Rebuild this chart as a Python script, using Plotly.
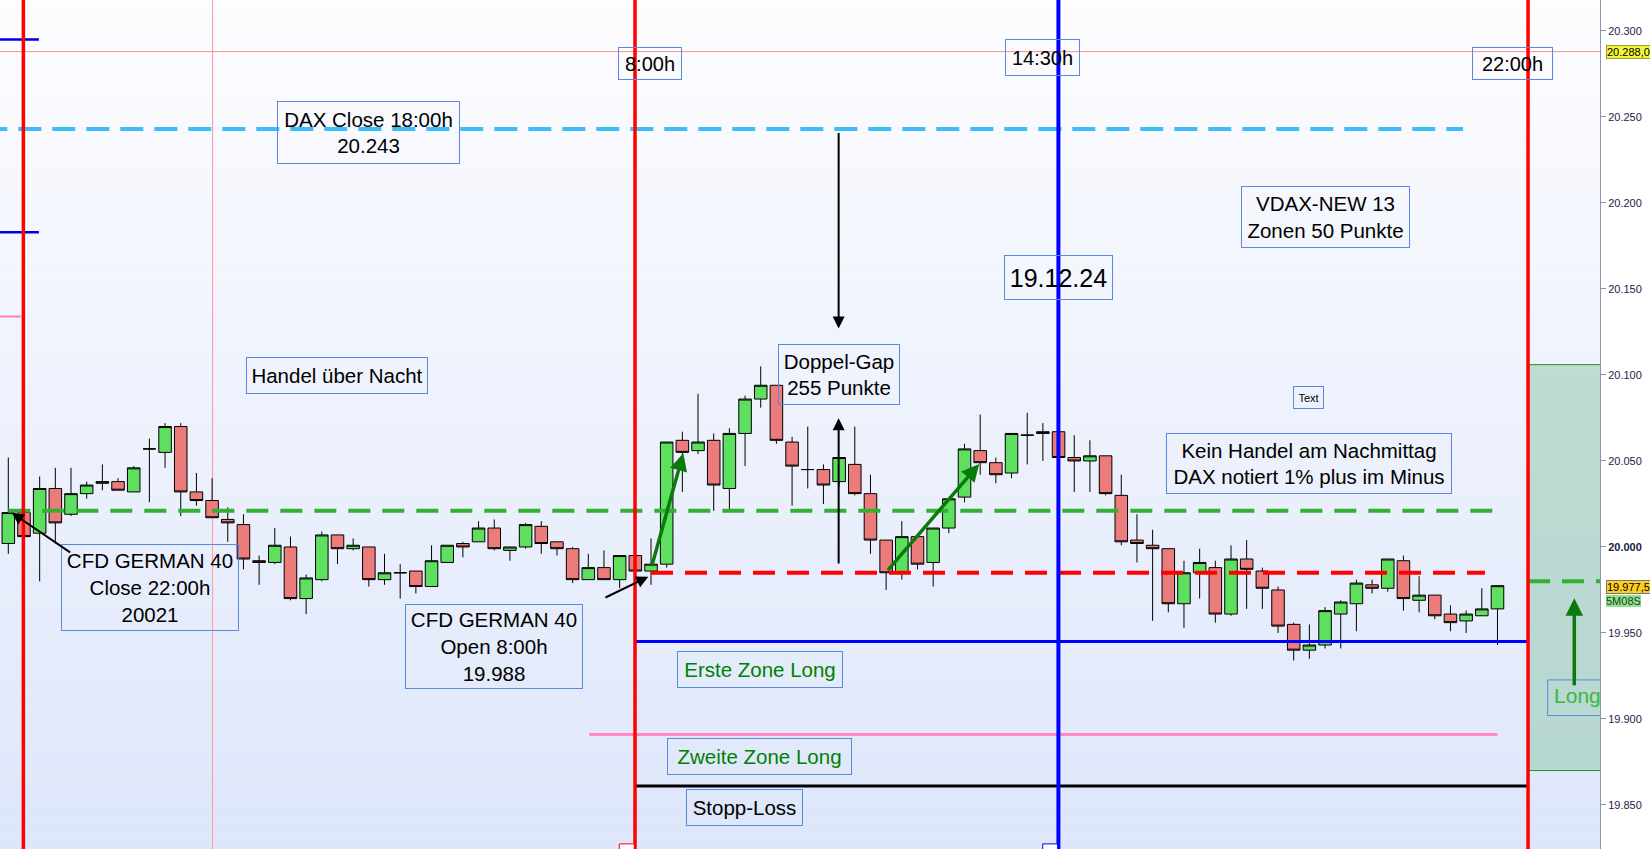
import plotly.graph_objects as go

# ---------------- data (15-min candles, index 0..95) ----------------
opens = [20002, 20020, 20008, 20034, 20019, 20031, 20037, 20038, 20032, 20057,
         20055, 20070, 20032, 20027, 20016, 20013, 19992, 19991, 20000, 19970,
         19981, 20007, 19999, 20000, 19981, 19985, 19986, 19977, 19991, 20002,
         20003, 20011, 19998, 20000, 20012, 20003, 19999, 19981, 19988, 19981,
         19995, 19986, 19990, 20062, 20056, 20062, 20034, 20066, 20086, 20094,
         20061, 20045, 20045, 20038, 20048, 20031, 20004, 19985, 20006, 19991,
         20011, 20029, 20056, 20049, 20043, 20065, 20066, 20067, 20052, 20050,
         20053, 20030, 20004, 20001, 19999, 19967, 19985, 19988, 19961, 19993,
         19986, 19975, 19955, 19940, 19943, 19961, 19967, 19978, 19976, 19992,
         19969, 19972, 19961, 19957, 19960, 19964]
highs = [20052, 20021, 20041, 20046, 20046, 20038, 20048, 20040, 20047, 20063,
         20072, 20072, 20043, 20040, 20023, 20019, 19995, 20011, 20006, 19984,
         20009, 20007, 20005, 20000, 19996, 19990, 19986, 20001, 20001, 20003,
         20015, 20016, 20000, 20014, 20015, 20003, 20000, 19996, 19998, 19995,
         19995, 20005, 20061, 20067, 20089, 20066, 20069, 20088, 20105, 20094,
         20064, 20070, 20048, 20052, 20070, 20042, 20004, 20015, 20006, 20011,
         20029, 20060, 20077, 20052, 20066, 20078, 20072, 20067, 20065, 20062,
         20053, 20042, 20019, 20010, 19999, 19992, 19999, 19992, 20001, 20004,
         19988, 19977, 19956, 19955, 19965, 19969, 19981, 19981, 19993, 19995,
         19983, 19972, 19966, 19963, 19976, 19977.5]
lows = [19996, 20005, 19980, 20002, 20018, 20028, 20033, 20033, 20032, 20026,
        20046, 20018, 20024, 20017, 20003, 19987, 19978, 19990, 19969, 19961,
        19980, 19990, 19998, 19977, 19978, 19970, 19973, 19977, 19991, 19994,
        20003, 19998, 19992, 19999, 19996, 19995, 19979, 19981, 19981, 19976,
        19981, 19978, 19988, 20032, 20054, 20021, 20021, 20047, 20081, 20060,
        20024, 20034, 20025, 20035, 20030, 19996, 19975, 19981, 19987, 19977,
        20008, 20026, 20042, 20037, 20040, 20048, 20050, 20051, 20032, 20032,
        20030, 20001, 19991, 19957, 19962, 19953, 19970, 19956, 19960, 19964,
        19964, 19950, 19934, 19935, 19941, 19941, 19951, 19973, 19974, 19963,
        19962, 19958, 19951, 19950, 19960, 19943]
closes = [20020, 20006, 20034, 20014, 20031, 20036, 20038, 20033, 20046, 20057,
          20070, 20032, 20027, 20017, 20014, 19993, 19991, 20001, 19970, 19982,
          20007, 19999, 20001, 19981, 19985, 19985, 19977, 19992, 20001, 20000,
          20011, 19999, 20000, 20013, 20002, 19999, 19981, 19988, 19981, 19995,
          19986, 19990, 20061, 20055, 20061, 20036, 20066, 20086, 20094, 20062,
          20047, 20045, 20036, 20052, 20031, 20004, 19985, 20006, 19990, 20011,
          20028, 20057, 20049, 20042, 20066, 20065, 20067, 20052, 20050, 20053,
          20031, 20003, 20002, 19999, 19967, 19985, 19991, 19961, 19993, 19987,
          19976, 19954, 19940, 19943, 19963, 19968, 19979, 19976, 19993, 19970,
          19972, 19960, 19956, 19961, 19964, 19977.5]
candle_idx = list(range(len(opens)))

# session markers (candle index positions)
session_names = ["22:00h", "8:00h", "14:30h", "22:00h"]
session_pos = [0.96, 39.98, 66.99, 96.95]
session_colors = ["#ff0000", "#ff0000", "#0000ff", "#ff0000"]

# price levels
dax_close = 20243
cfd_close = 20021
cfd_open = 19985
zone1 = 19945
zone2 = 19891
stop_loss = 19861
last_price = 19977.5
prev_high_mark = 20288
long_zone = [19870, 20106]

y_ticks = [19850, 19900, 19950, 20000, 20050, 20100, 20150, 20200, 20250, 20300]
y_tick_text = ["19.850", "19.900", "19.950", "<b>20.000</b>", "20.050", "20.100",
               "20.150", "20.200", "20.250", "20.300"]

X_MIN, X_MAX = -0.53, 101.54
Y_MIN, Y_MAX = 19824.4, 20318.0

FONT = "Liberation Sans, Arial, sans-serif"
GREEN_TXT = "#008000"
BOX_BORDER = "#5a88e0"

fig = go.Figure()
fig.add_trace(go.Candlestick(
    x=candle_idx, open=opens, high=highs, low=lows, close=closes,
    increasing=dict(fillcolor="#5fdf5f", line=dict(color="black", width=1)),
    decreasing=dict(fillcolor="#ec7c7c", line=dict(color="black", width=1)),
    whiskerwidth=0, showlegend=False, hoverinfo="skip"))

shapes = []
# gradient background
N = 60
top = (253, 253, 255)
bot = (221, 230, 250)
for k in range(N):
    t = (k + 0.5) / N
    c = tuple(round(bot[j] + (top[j] - bot[j]) * t) for j in range(3))
    shapes.append(dict(type="rect", xref="paper", yref="paper", x0=0, x1=1,
                       y0=k / N, y1=(k + 1) / N, layer="below",
                       fillcolor="rgb(%d,%d,%d)" % c, line=dict(width=0)))

# long zone box right of 22:00
shapes.append(dict(type="rect", xref="x", yref="y", x0=session_pos[3], x1=X_MAX + 2,
                   y0=long_zone[0], y1=long_zone[1], layer="below",
                   fillcolor="rgba(150,200,175,0.55)", line=dict(width=0)))
for yv in long_zone:
    shapes.append(dict(type="line", xref="x", yref="y", x0=session_pos[3], x1=X_MAX + 2,
                       y0=yv, y1=yv, line=dict(color="#2a8a2a", width=1)))

def hline(y, x0, x1, color, width, dash="solid", layer="above"):
    shapes.append(dict(type="line", xref="x", yref="y", x0=x0, x1=x1, y0=y, y1=y,
                       layer=layer, line=dict(color=color, width=width, dash=dash)))

# thin reference lines
hline(prev_high_mark, X_MIN - 1, X_MAX + 2, "#ff8a8a", 1, layer="below")
shapes.append(dict(type="line", xref="x", yref="paper", x0=13.03, x1=13.03, y0=0, y1=1,
                   layer="below", line=dict(color="#ff9a9a", width=1)))
# short left-edge marks
hline(20295, X_MIN - 1, 1.95, "#0000dd", 2.5)
hline(20183, X_MIN - 1, 1.95, "#0000dd", 2.5)
hline(20134, X_MIN - 1, 0.8, "#ff80b0", 2)

# levels
hline(dax_close, X_MIN - 1, 92.8, "#3fbcf5", 4, "23px,11px")
hline(cfd_close, 0, 94.8, "#33b033", 4, "22px,12px")
hline(cfd_open, 41, 94.2, "#ff0000", 4, "22px,12px")
hline(zone1, session_pos[1], session_pos[3], "#0000ff", 3)
hline(zone2, 37.06, 95.0, "#ff88c0", 3)
hline(stop_loss, session_pos[1], session_pos[3], "#000000", 3)
hline(19980, session_pos[3], X_MAX + 2, "#33b033", 4, "22px,12px")

# session vertical lines
for p, col in zip(session_pos, session_colors):
    shapes.append(dict(type="line", xref="x", yref="paper", x0=p, x1=p, y0=0, y1=1,
                       line=dict(color=col, width=4 if col == "#0000ff" else 3.5)))
# small markers at bottom of session lines
for p, col in [(session_pos[1], "#ff0000"), (session_pos[2], "#0000ff")]:
    shapes.append(dict(type="rect", xref="x", yref="paper", x0=p - 1.0, x1=p - 0.05,
                       y0=-0.01, y1=0.006, fillcolor="white", line=dict(color=col, width=1)))

annotations = []

def box(text, x, y, w, h, size=20.5, color="black"):
    annotations.append(dict(text=text, x=x, y=y, xref="x", yref="y", showarrow=False,
                            width=w, height=h, borderpad=0, borderwidth=1,
                            bordercolor=BOX_BORDER, align="center", valign="middle",
                            font=dict(family=FONT, size=size, color=color)))

box("8:00h", 40.92, 20281.0, 62, 31, 20)
box("14:30h", 65.99, 20284.7, 73, 35, 20)
box("22:00h", 95.97, 20281.0, 79, 31, 20)
box("DAX Close 18:00h<br>20.243", 22.97, 20240.9, 181, 61)
box("VDAX-NEW 13<br>Zonen 50 Punkte", 84.02, 20192.0, 167, 60)
box("19.12.24", 67.0, 20156.8, 107, 43, 25)
box("Doppel-Gap<br>255 Punkte", 52.97, 20100.2, 120, 59)
box("Handel über Nacht", 20.99, 20099.9, 180, 35)
box("Text", 82.97, 20086.7, 29, 21, 11)
box("Kein Handel am Nachmittag<br>DAX notiert 1% plus im Minus", 82.97, 20048.3, 284, 59)
box("CFD GERMAN 40<br>Close 22:00h<br>20021", 9.01, 19976.5, 176, 85)
box("CFD GERMAN 40<br>Open 8:00h<br>19.988", 30.98, 19942.1, 176, 83)
box("Erste Zone Long", 47.97, 19928.5, 164, 35, 20.5, GREEN_TXT)
box("Zweite Zone Long", 47.94, 19878.0, 183, 35, 20.5, GREEN_TXT)
box("Stopp-Loss", 46.98, 19848.4, 115, 35)

# "Long" box (clipped at axis) drawn as shape + text trace
shapes.append(dict(type="rect", xref="x", yref="y", x0=98.2, x1=X_MAX + 1.2,
                   y0=19902.0, y1=19922.7, line=dict(color=BOX_BORDER, width=1)))
fig.add_trace(go.Scatter(x=[100.1], y=[19912.3], mode="text", text=["Long"],
                         textfont=dict(family=FONT, size=21, color="#3cb83c"),
                         cliponaxis=True, showlegend=False, hoverinfo="skip"))

def arrow(x0, y0, x1, y1, color="black", width=2, size=1.2):
    annotations.append(dict(x=x1, y=y1, ax=x0, ay=y0, xref="x", yref="y", axref="x",
                            ayref="y", text="", showarrow=True, arrowhead=2,
                            arrowsize=size, arrowwidth=width, arrowcolor=color,
                            standoff=0, startstandoff=0))

arrow(4.04, 19996.3, 0.22, 20019.9)
arrow(38.0, 19970.2, 40.83, 19982.7)
arrow(41.04, 19988.6, 43.06, 20054.5, "#0a7a0a", 3.5, 1.0)
arrow(56.03, 19985.6, 61.94, 20048.3, "#0a7a0a", 3.5, 1.0)
arrow(52.97, 20241.6, 52.97, 20127.0)
arrow(52.97, 19989.5, 52.97, 20074.8)
arrow(99.9, 19918.8, 99.9, 19970.2, "#0a7a0a", 3.5, 1.0)

# right-side price labels
def price_label(text, y, bg, border, color="black"):
    annotations.append(dict(text=text, x=1, y=y, xref="paper", yref="y", xanchor="left",
                            xshift=6, showarrow=False, bgcolor=bg, bordercolor=border,
                            borderwidth=1 if border else 0, borderpad=0,
                            font=dict(family=FONT, size=11, color=color)))

price_label("20.288,0", prev_high_mark, "#f5f53a", "#9a9a30")
price_label("19.977,5", 19976.6, "#ffcc22", "#777777")
price_label("5M08S", 19968.7, "#90e090", None, "#224422")

fig.update_layout(
    width=1650, height=849,
    margin=dict(l=0, r=50, t=0, b=0),
    paper_bgcolor="white", plot_bgcolor="rgb(240,243,253)",
    showlegend=False,
    boxgap=0.2, boxgroupgap=0,
    shapes=shapes, annotations=annotations,
    xaxis=dict(range=[X_MIN, X_MAX], showgrid=False, zeroline=False,
               showticklabels=False, ticks="", showline=False,
               rangeslider=dict(visible=False)),
    yaxis=dict(range=[Y_MIN, Y_MAX], side="right", showgrid=False, zeroline=False,
               tickvals=y_ticks, ticktext=y_tick_text, ticks="outside", ticklen=5,
               tickcolor="#8797ad", showline=True, linecolor="#8797ad", linewidth=1,
               tickfont=dict(family=FONT, size=11, color="#1c1c48")),
)

fig.write_html("out.html", config={"displayModeBar": False},
               post_script="document.body.style.margin='0';"
                           "document.body.style.overflow='hidden';")
